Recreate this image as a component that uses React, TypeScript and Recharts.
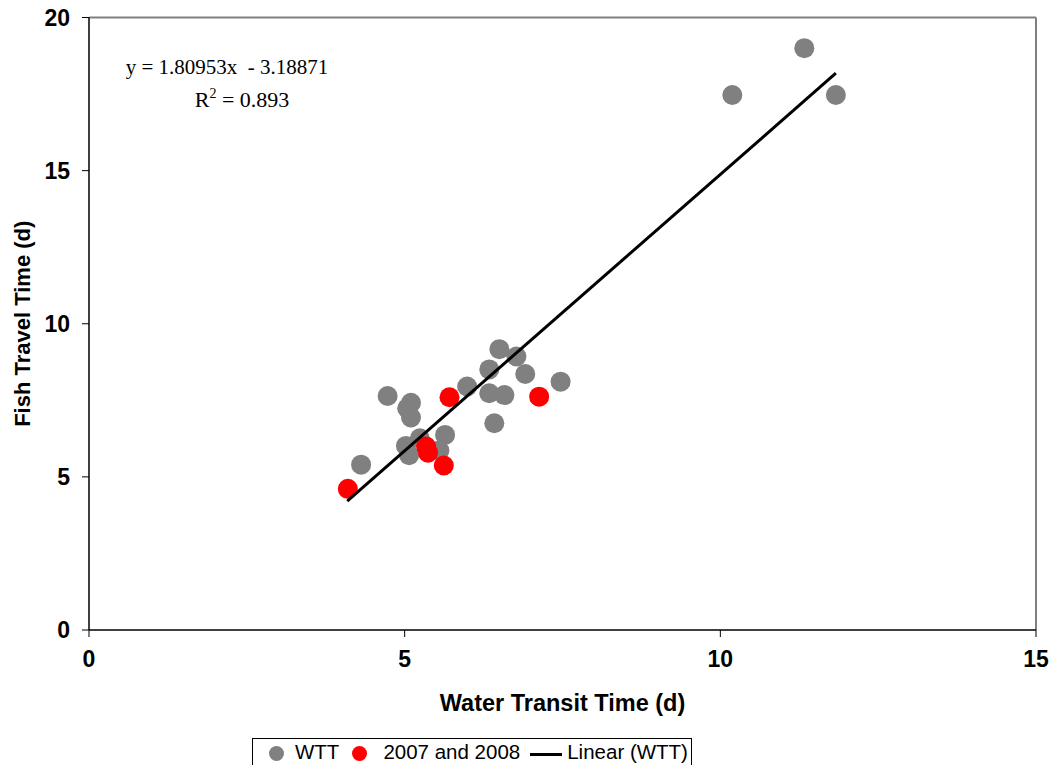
import React from "react";
import {
  ScatterChart,
  Scatter,
  XAxis,
  YAxis,
  ReferenceLine,
} from "recharts";

const wttX = [4.73, 6.5, 6.77, 6.34, 6.91, 7.47, 5.99, 6.34, 6.58, 5.1, 5.04, 5.1, 6.42, 5.64, 5.24, 5.02, 5.07, 5.55, 4.31, 11.33, 10.19, 11.83];
const wttY = [7.64, 9.17, 8.93, 8.51, 8.36, 8.11, 7.95, 7.73, 7.67, 7.42, 7.24, 6.94, 6.75, 6.37, 6.26, 6.01, 5.71, 5.86, 5.4, 19.0, 17.47, 17.47];
const redX = [5.71, 7.13, 5.34, 5.37, 5.62, 4.1];
const redY = [7.6, 7.62, 5.99, 5.79, 5.37, 4.61];
const trendX = [4.09, 11.83];
const trendY = [4.21, 18.18];
const xTicks = [0, 5, 10, 15];
const yTicks = [0, 5, 10, 15, 20];

const wttData = wttX.map((x, i) => ({ x, y: wttY[i] }));
const redData = redX.map((x, i) => ({ x, y: redY[i] }));
const trendData = trendX.map((x, i) => ({ x, y: trendY[i] }));

const dot = (color: string) => (props: any) => {
  const { cx, cy } = props;
  if (cx == null || cy == null) return <g />;
  return <circle cx={cx} cy={cy} r={10} fill={color} />;
};

const tickStyle = {
  fontFamily: "Liberation Sans, Arial, sans-serif",
  fontWeight: "bold" as const,
  fontSize: 23,
  fill: "#000",
};

const YTitle = (props: any) => {
  const vb = props.viewBox || {};
  const cy = vb.y + vb.height / 2;
  return (
    <text
      x={30}
      y={cy}
      transform={`rotate(-90, 30, ${cy})`}
      textAnchor="middle"
      style={{ ...tickStyle, fontSize: 22 }}
    >
      Fish Travel Time (d)
    </text>
  );
};

export default function App() {
  return (
    <div style={{ position: "absolute", left: 0, top: 0, width: 1054, height: 765 }}>
      <ScatterChart
        width={1054}
        height={765}
        margin={{ top: 17.5, right: 18, bottom: 0, left: 0 }}
      >
        <XAxis
          type="number"
          dataKey="x"
          domain={[0, 15]}
          ticks={xTicks}
          axisLine={{ stroke: "#000", strokeWidth: 1.5 }}
          tickLine={{ stroke: "#000" }}
          tickSize={7}
          tickMargin={14}
          tick={tickStyle}
          height={135}
          label={{
            value: "Water Transit Time (d)",
            position: "insideTop",
            offset: 64,
            style: { ...tickStyle, fontSize: 23.5 },
          }}
        />
        <YAxis
          type="number"
          dataKey="y"
          domain={[0, 20]}
          ticks={yTicks}
          axisLine={{ stroke: "#000", strokeWidth: 1.5 }}
          tickLine={{ stroke: "#000" }}
          tickSize={7}
          tickMargin={12}
          tick={tickStyle}
          width={89}
          label={<YTitle />}
        />
        <ReferenceLine y={20} stroke="#808080" strokeWidth={2} ifOverflow="extendDomain" />
        <ReferenceLine x={15} stroke="#808080" strokeWidth={2} ifOverflow="extendDomain" />
        <Scatter
          name="WTT"
          data={wttData}
          fill="#808080"
          shape={dot("#808080")}
          isAnimationActive={false}
        />
        <Scatter
          name="2007 and 2008"
          data={redData}
          fill="#ff0000"
          shape={dot("#ff0000")}
          isAnimationActive={false}
        />
        <Scatter
          name="Linear (WTT)"
          data={trendData}
          line={{ stroke: "#000", strokeWidth: 3 }}
          shape={() => <g />}
          isAnimationActive={false}
        />
        <text
          x={227}
          y={74}
          textAnchor="middle"
          style={{ fontFamily: "Liberation Serif, Times New Roman, serif", fontSize: 21 }}
        >
          {"y = 1.80953x \u00a0- 3.18871"}
        </text>
        <text
          x={242}
          y={107}
          textAnchor="middle"
          style={{ fontFamily: "Liberation Serif, Times New Roman, serif", fontSize: 22 }}
        >
          R<tspan dy={-9} fontSize={14}>2</tspan>
          <tspan dy={9}> = 0.893</tspan>
        </text>
      </ScatterChart>
      <div
        style={{
          position: "absolute",
          left: 252,
          top: 738,
          width: 440,
          height: 40,
          border: "1px solid #000",
          boxSizing: "border-box",
          fontFamily: "Liberation Sans, Arial, sans-serif",
          fontSize: 20.5,
          display: "flex",
          alignItems: "flex-start",
          paddingTop: 1,
          background: "#fff",
          whiteSpace: "nowrap",
        }}
      >
        <span style={{ display: "inline-block", width: 15, height: 15, borderRadius: 8, background: "#808080", marginLeft: 16, marginTop: 6 }} />
        <span style={{ marginLeft: 11 }}>WTT</span>
        <span style={{ display: "inline-block", width: 15, height: 15, borderRadius: 8, background: "#ff0000", marginLeft: 13, marginTop: 6 }} />
        <span style={{ marginLeft: 16 }}>2007 and 2008</span>
        <span style={{ display: "inline-block", width: 32, height: 3, background: "#000", marginLeft: 10, marginTop: 13 }} />
        <span style={{ marginLeft: 5 }}>Linear (WTT)</span>
      </div>
    </div>
  );
}
